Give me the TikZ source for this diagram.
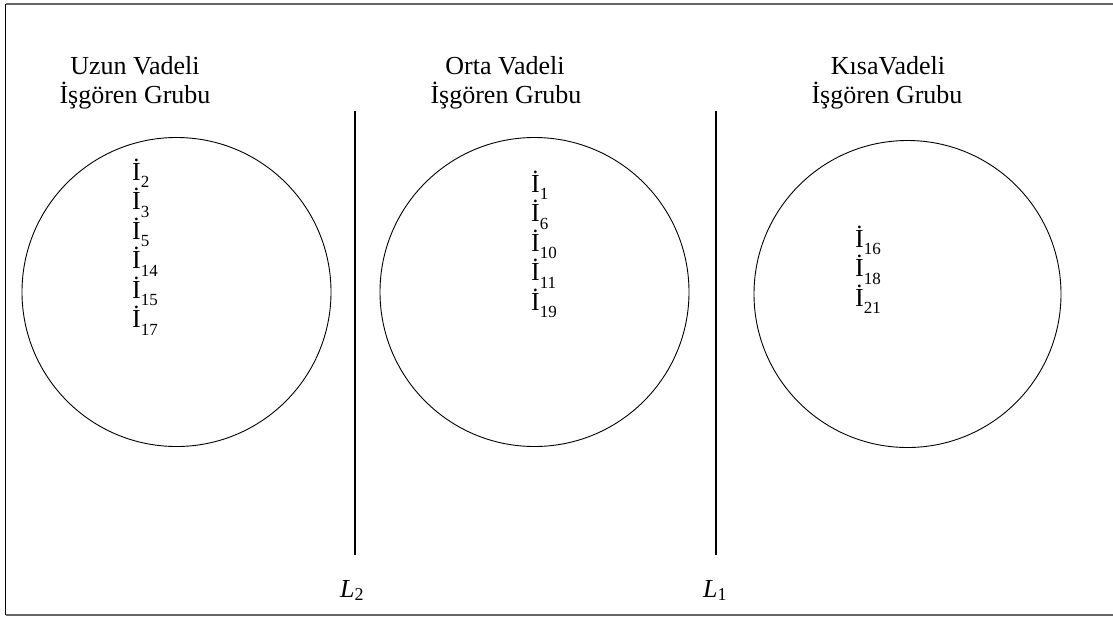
\documentclass[tikz,border=0pt]{standalone}
\usepackage{fontspec}
\setmainfont{Liberation Serif}
\begin{document}
\begin{tikzpicture}[x=1pt,y=-1pt,
  grp/.style={draw=black,line width=0.9pt,circle,inner sep=0pt},
  ttl/.style={anchor=base,inner sep=0pt,font=\fontsize{26}{29.5}\selectfont},
  itm/.style={anchor=base west,inner sep=0pt,font=\fontsize{26}{29.5}\selectfont},
  sep/.style={draw=black,line width=1.8pt},
  lab/.style={anchor=base west,inner sep=0pt,font=\fontsize{26}{29.5}\selectfont},
  frame/.style={draw=gray!80!black,line width=1.6pt}]
\useasboundingbox (0,0) rectangle (1113,619);
\newcommand{\Isub}[1]{İ\raisebox{-0.3em}{\fontsize{17}{17}\selectfont #1}}
% frame
\coordinate (fTR) at (1113,4);
\coordinate (fTL) at (5.5,4);
\coordinate (fBL) at (5.5,615);
\coordinate (fBR) at (1113,615);
\draw[frame] (fTR) -- (fTL);
\draw[frame] (fBL) -- (fBR);
\draw[draw=black,line width=1.4pt] (fTL) -- (fBL);
% circles
\node[grp,minimum size=309pt] (cL) at (176.5,292) {};
\node[grp,minimum size=309pt] (cM) at (534.5,292) {};
\node[grp,minimum size=307pt] (cR) at (907.5,294) {};
% separators
\coordinate (l2t) at (355,111);
\coordinate (l2b) at (355,555);
\coordinate (l1t) at (716,111);
\coordinate (l1b) at (716,555);
\draw[sep] (l2t) -- (l2b);
\draw[sep] (l1t) -- (l1b);
\node[lab] (L2) at (340,597) {\textit{L}\raisebox{-0.15em}{\fontsize{18}{18}\selectfont 2}};
\node[lab] (L1) at (703,597) {\textit{L}\raisebox{-0.15em}{\fontsize{18}{18}\selectfont 1}};
% titles
\node[ttl] (tL1) at (135,74) {Uzun Vadeli};
\node[ttl] (tL2) at (135,103.5) {İşgören Grubu};
\node[ttl] (tM1) at (505,74) {Orta Vadeli};
\node[ttl] (tM2) at (506,103.5) {İşgören Grubu};
\node[ttl] (tR1) at (888,74) {KısaVadeli};
\node[ttl] (tR2) at (887,103.5) {İşgören Grubu};
% items left
\node[itm] (a1) at (132,180) {\Isub{2}};
\node[itm] (a2) at (132,209.5) {\Isub{3}};
\node[itm] (a3) at (132,239) {\Isub{5}};
\node[itm] (a4) at (132,268.5) {\Isub{14}};
\node[itm] (a5) at (132,298) {\Isub{15}};
\node[itm] (a6) at (132,327.5) {\Isub{17}};
% items middle
\node[itm] (b1) at (531,192) {\Isub{1}};
\node[itm] (b2) at (531,221.5) {\Isub{6}};
\node[itm] (b3) at (531,251) {\Isub{10}};
\node[itm] (b4) at (531,280.5) {\Isub{11}};
\node[itm] (b5) at (531,310) {\Isub{19}};
% items right
\node[itm] (c1) at (855,247) {\Isub{16}};
\node[itm] (c2) at (855,276.5) {\Isub{18}};
\node[itm] (c3) at (855,306) {\Isub{21}};
\end{tikzpicture}
\end{document}
